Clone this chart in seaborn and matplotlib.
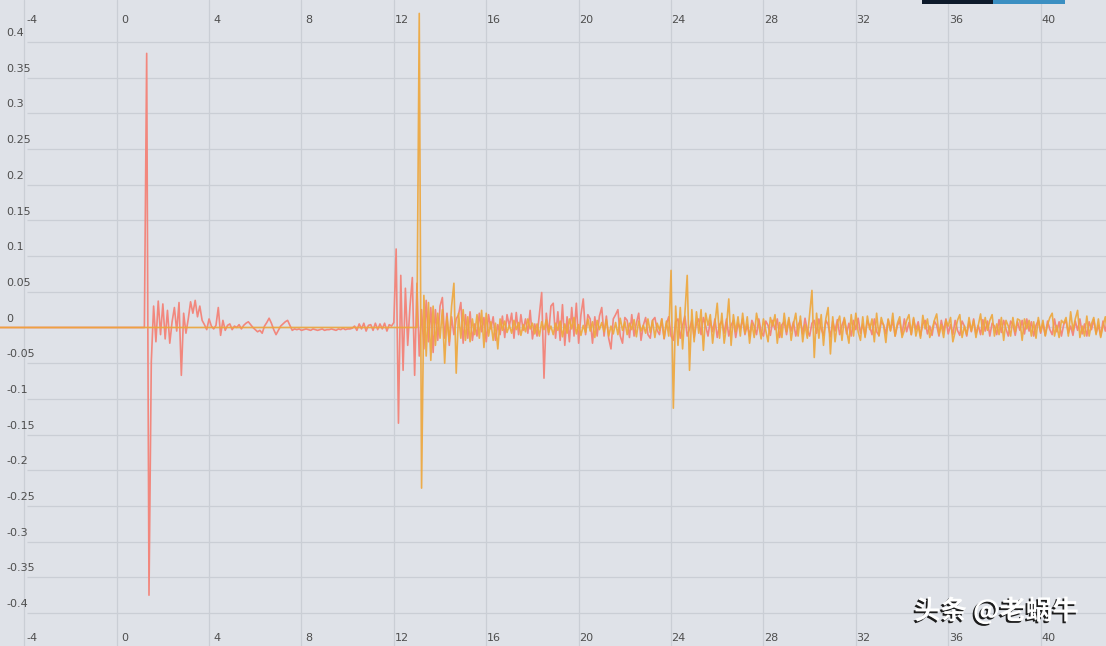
import numpy as np
import pandas as pd
import matplotlib
matplotlib.use("Agg")
import matplotlib.pyplot as plt
import matplotlib.patheffects as pe
import matplotlib.transforms as mtrans
from matplotlib.patches import Rectangle
import seaborn as sns

# ── Data (amplitudes, in thousandths) ──────────────────────────────
DT = 0.1
LEAD_START = -5.2

SALMON_T0 = 1.3
SALMON_MILLI = [
    384, -375, -48, 30, -20, 37, -10, 33, -16, 24,
    -22, 8, 28, -5, 35, -67, 20, -8, 12, 36,
    20, 38, 15, 30, 10, 4, -3, 12, 2, -2,
    3, 28, -11, 10, -4, 3, 5, -3, 2, 0,
    4, -2, 3, 6, 8, 4, 0, -3, -6, -4,
    -8, 2, 7, 13, 6, -3, -10, -4, 2, 5,
    8, 10, 3, -4, -2, -3, -2, -4, -3, -2,
    -3, -4, -2, -3, -4, -3, -2, -4, -3, -3,
    -2, -3, -4, -2, -3, -1, -3, -2, -2, -1,
    2, -4, 5, -2, 6, -5, 3, 4, -4, 6,
    -3, 5, -2, 6, -5, 4, 2, 7, 110, -134,
    73, -60, 55, -25, 30, 70, -67, 62, -40, 25,
    -30, 38, -20, 28, -35, 25, -18, 30, 42, -15,
    20, -25, 15, -10, 12, 18, 35, -22, 18, -15,
    22, -18, 5, -12, 20, -6, 14, -20, 18, -2,
    15, -18, 4, -10, 16, -14, 18, 2, 20, -15,
    21, -10, 18, -4, 12, -8, 24, -16, 5, -12,
    18, 49, -71, 20, -10, 30, 34, -15, 22, -18,
    32, -25, 15, -20, 28, -12, 34, -22, 18, 40,
    -10, 18, 12, -22, 15, -12, 16, 28, -12, 16,
    -15, -30, 12, 18, 25, -12, -22, 14, 10, -14,
    18, -12, 6, 20, -18, 3, 14, -10, -15, 10,
    14, -4, -10, 12, -16, 5, 15, -12, -18, 8,
    12, -15, 3, 16, -12, -2, 10, -14, 6, 12,
    -10, 14, 2, -12, 10, -6, 12, -14, 4, 9,
    -8, 12, -12, 3, 10, -14, 6, -2, 12, -10,
    4, -12, 10, 2, -10, 12, -6, -12, 9, 3,
    -11, 10, -3, 12, -14, 4, 8, -10, 11, -5,
    8, -12, 3, 10, -9, 13, -4, -12, 6, 10,
    -8, 12, -2, -11, 10, 4, -13, 9, -5, 11,
    -10, 3, 12, -9, 6, -12, 10, -3, 13, -8,
    5, -12, 9, 2, -10, 12, -6, -11, 8, 4,
    -9, 11, -4, 10, -12, 3, 9, -10, 12, -6,
    7, -10, 12, -3, 8, -12, 5, 10, -9, 2,
    -11, 9, 3, -12, 10, -5, 12, -9, 4, -10,
    10, -4, -11, 9, 2, -12, 8, -6, 12, -9,
    3, -10, 11, -5, 9, -12, 6, 2, -10, 11,
    -7, 10, -2, -12, 9, 4, -11, 8, -4, 10,
    -9, 12, -5, 8, -12, 3, 10, -8, 6, -11,
    9, -3, -10, 12, -6, 8, -12, 4, 10, -8,
    2, -11, 9, -4, 12, -9, 5, -12, 8, -3,
    11, -8, 3, -12, 9, -5, 10, -12, 6, -10,
]

ORANGE_T0 = 13.1
ORANGE_MILLI = [
    440, -225, 45, -40, 35, -46, 30, -25, 20, -15,
    25, -50, 15, -20, 30, 62, -64, 20, -15, 25,
    -18, 15, -20, 12, -10, 18, -15, 24, -28, 20,
    -12, 8, -18, 6, -30, 12, -4, 9, -7, 3,
    -8, 10, -3, 7, -11, 4, -6, 12, -2, 6,
    -9, 5, -12, 8, -3, 11, -7, 2, -10, 6,
    -4, 9, -13, 5, -8, 12, -2, 14, -9, 4,
    -11, 3, -7, 12, -5, 8, -14, 10, -3, 7,
    -6, 11, -12, 2, -9, 7, -10, 13, -4, 8,
    -10, 6, -3, 11, -13, 9, -5, 3, -8, 12,
    -7, 10, -14, 6, -4, 12, -15, 9, -12, 80,
    -113, 30, -25, 28, -30, 20, 73, -60, 25, -20,
    22, -8, 25, -32, 20, 3, 18, -22, 6, 34,
    -15, 20, -22, 2, 40, -25, 18, -6, 15, -12,
    20, -8, 15, -22, 6, -14, 20, 3, -16, 12,
    -4, -20, 14, 2, 18, -22, 7, -14, 20, -6,
    14, -18, 5, 20, -12, 16, -20, 4, -15, 18,
    52, -42, 20, -15, 18, -25, 12, 28, -37, 15,
    -20, 6, 16, -18, 14, -4, -22, 18, -12, 20,
    -6, -18, 15, -14, 16, -3, 12, -20, 20, -12,
    14, 3, -21, 12, -5, 20, -12, 6, 15, -14,
    -4, 10, 18, -10, 14, -12, 3, -15, 17, -2,
    12, -14, -3, 10, 19, -10, 4, -14, 10, 2,
    14, -20, -6, 10, 18, -14, 2, -10, 14, -5,
    10, -14, 3, 19, -10, 14, -4, 10, 18, -12,
    5, -10, 14, -18, 10, 2, -12, 14, -6, 12,
    10, -18, 12, -2, 10, -12, 8, -15, 14, -6,
    10, -12, 4, 14, 20, -12, 3, -14, 10, 6,
    14, -12, 22, -4, 12, 24, -14, 2, -12, 16,
    -12, 5, 14, -10, 12, -14, 2, 15, -10, 12,
]

X_TICKS = [-4, 0, 4, 8, 12, 16, 20, 24, 28, 32, 36, 40]
Y_TICKS = [0.4, 0.35, 0.3, 0.25, 0.2, 0.15, 0.1, 0.05, 0,
           -0.05, -0.1, -0.15, -0.2, -0.25, -0.3, -0.35, -0.4]
Y_TICK_LABELS = ["0.4", "0.35", "0.3", "0.25", "0.2", "0.15", "0.1", "0.05", "0",
                 "-0.05", "-0.1", "-0.15", "-0.2", "-0.25", "-0.3", "-0.35", "-0.4"]
WATERMARK = "头条 @老蜗牛"

# ── Style ─────────────────────────────────────────────────
BG      = "#DFE2E8"
GRID    = "#CACED5"
SALMON  = "#F2877D"
ORANGE  = "#EEA63A"
TICKCOL = "#4E4E4E"


def build_series(t0, milli, name):
    t = np.round(t0 + DT * np.arange(len(milli)), 3)
    t = np.concatenate([[LEAD_START, t0 - DT], t])
    amp = np.concatenate([[0.0, 0.0], np.array(milli) / 1000.0])
    return pd.DataFrame({"t": t, "amp": amp, "series": name})


salmon = build_series(SALMON_T0, SALMON_MILLI, "salmon")
orange = build_series(ORANGE_T0, ORANGE_MILLI, "orange")

sns.set_style("white")
plt.rcParams["font.family"] = ["DejaVu Sans"]

fig = plt.figure(figsize=(11.06, 6.46), dpi=100)
fig.patch.set_facecolor(BG)
ax = fig.add_axes([0, 0, 1, 1])
ax.set_facecolor(BG)
ax.set_xlim(-5.05, 42.83)
ax.set_ylim(-0.4462, 0.4588)
for s in ax.spines.values():
    s.set_visible(False)
ax.set_xticks([])
ax.set_yticks([])

# grid
for xv in X_TICKS:
    ax.axvline(xv, color=GRID, lw=0.9, zorder=0)
ax.hlines(Y_TICKS, -3.9, 43, color=GRID, lw=0.9, zorder=0)

sns.lineplot(data=salmon, x="t", y="amp", color=SALMON, lw=1.2,
             estimator=None, sort=False, ax=ax, zorder=2)
sns.lineplot(data=orange, x="t", y="amp", color=ORANGE, lw=1.2, alpha=0.9,
             estimator=None, sort=False, ax=ax, zorder=3)
ax.set_xlabel("")
ax.set_ylabel("")

# tick labels drawn inside the frame, top and bottom
trans_x = mtrans.blended_transform_factory(ax.transData, ax.transAxes)
for xv in X_TICKS:
    for yy in (0.969, 0.012):
        ax.text(xv + 0.33, yy, str(xv), transform=trans_x, ha="center", va="center",
                fontsize=8, color=TICKCOL)
trans_y = mtrans.blended_transform_factory(ax.transAxes, ax.transData)
for yv, lab in zip(Y_TICKS, Y_TICK_LABELS):
    ax.text(0.006, yv + 0.0125, lab, transform=trans_y, ha="left", va="center",
            fontsize=8, color=TICKCOL)

# UI bar at the top right edge
fig.add_artist(Rectangle((922 / 1106, 1 - 4 / 646), 71 / 1106, 4 / 646,
                         transform=fig.transFigure, color="#0E1A2B", lw=0))
fig.add_artist(Rectangle((993 / 1106, 1 - 4 / 646), 72 / 1106, 4 / 646,
                         transform=fig.transFigure, color="#3B8FC2", lw=0))

# watermark
fig.text(0.901, 0.054, WATERMARK, ha="center", va="center", fontsize=19,
         fontweight="bold", color="white",
         family=["Noto Sans CJK SC", "DejaVu Sans"],
         path_effects=[pe.withSimplePatchShadow(offset=(-1.3, -1.3),
                                                shadow_rgbFace="#111111", alpha=0.95)])

fig.savefig("out.png", dpi=100, facecolor=BG)
plt.close(fig)
